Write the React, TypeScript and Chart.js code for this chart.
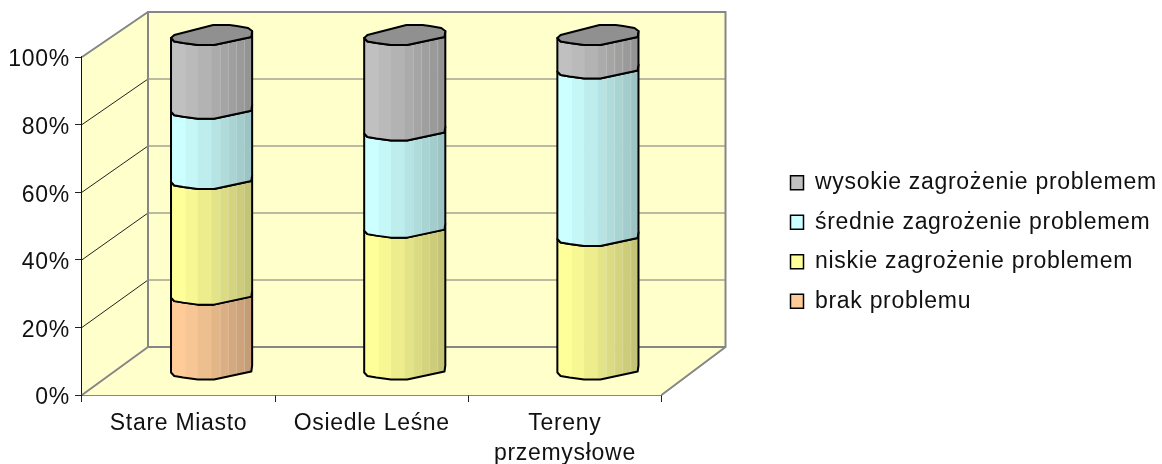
import React, { useEffect, useRef } from "react";
import { Chart, registerables } from "chart.js";

Chart.register(...registerables);

const categories = ["Stare Miasto", "Osiedle Leśne", ["Tereny", "przemysłowe"]];
const brakProblemu = [22.5, 0, 0];
const niskie = [34.5, 42.5, 40];
const srednie = [21, 29, 50];
const wysokie = [22, 28.5, 10];
const seriesNames = [
  "brak problemu",
  "niskie zagrożenie problemem",
  "średnie zagrożenie problemem",
  "wysokie zagrożenie problemem",
];
const seriesColors = ["#FFCC99", "#FFFF99", "#CCFFFF", "#C0C0C0"];

const FONT = "'Liberation Sans', Arial, sans-serif";
const DEPTH_X = 66;
const DEPTH_Y_BACK = 48;
const BACK_RATIO = 335 / 338;

const FRONT: [number, number][] = [
  [0, 3], [0.04, 6.5], [0.15, 8], [0.33, 10], [0.53, 10], [0.99, 2], [1, -4],
];
const BACK: [number, number][] = [
  [1, -4], [0.95, -7], [0.81, -9], [0.72, -10], [0.52, -10], [0.04, 0], [0, 3],
];
const BAND_EDGES = [0, 0.18, 0.33, 0.5, 0.6, 0.7, 0.8, 0.9, 1];
const BAND_SHADES = [1, 0.97, 0.93, 0.89, 0.86, 0.83, 0.8, 0.77];

function shade(hex: string, f: number) {
  const n = parseInt(hex.slice(1), 16);
  const r = Math.round(((n >> 16) & 255) * f);
  const g = Math.round(((n >> 8) & 255) * f);
  const b = Math.round((n & 255) * f);
  return `rgb(${r},${g},${b})`;
}

const spacing = {
  id: "spacing",
  beforeUpdate(chart: any) {
    chart.ctx.letterSpacing = "0.7px";
  },
  beforeDraw(chart: any) {
    chart.ctx.letterSpacing = "0.7px";
  },
};

const legendPlace = {
  id: "legendPlace",
  afterLayout(chart: any) {
    const l = chart.legend;
    const h = l.bottom - l.top;
    l.left = 774;
    l.right = 1162;
    l.top = 242 - h / 2;
    l.bottom = 242 + h / 2;
  },
};

const walls = {
  id: "walls",
  beforeDatasetsDraw(chart: any) {
    const { ctx, scales } = chart;
    const y = scales.y;
    const x = scales.x;
    const L = x.left, R = x.right;
    const y0 = y.getPixelForValue(0), y100 = y.getPixelForValue(100);
    const backY = (py: number) => y0 - DEPTH_Y_BACK - (y0 - py) * BACK_RATIO;
    const bL = L + DEPTH_X, bR = R + DEPTH_X - 2;

    ctx.save();
    ctx.fillStyle = "#FFFFCC";
    ctx.beginPath();
    ctx.moveTo(L, y100);
    ctx.lineTo(bL, backY(y100));
    ctx.lineTo(bR, backY(y100));
    ctx.lineTo(bR, backY(y0));
    ctx.lineTo(R, y0);
    ctx.lineTo(L, y0);
    ctx.closePath();
    ctx.fill();

    // gridlines on the side and back walls
    for (const t of y.ticks) {
      const py = y.getPixelForValue(t.value);
      if (t.value > 0 && t.value < 100) {
        ctx.strokeStyle = "#222";
        ctx.lineWidth = 1;
        ctx.beginPath();
        ctx.moveTo(L, py);
        ctx.lineTo(bL, backY(py));
        ctx.stroke();
        ctx.strokeStyle = "#777";
        ctx.beginPath();
        ctx.moveTo(bL, backY(py));
        ctx.lineTo(bR, backY(py));
        ctx.stroke();
      }
    }

    // wall edges
    ctx.strokeStyle = "#868686";
    ctx.lineWidth = 2;
    ctx.beginPath();
    ctx.moveTo(L, y100);
    ctx.lineTo(bL, backY(y100));
    ctx.lineTo(bR, backY(y100));
    ctx.lineTo(bR, backY(y0));
    ctx.lineTo(R, y0);
    ctx.moveTo(bL, backY(y100));
    ctx.lineTo(bL, backY(y0));
    ctx.lineTo(bR, backY(y0));
    ctx.moveTo(bL, backY(y0));
    ctx.lineTo(L, y0);
    ctx.stroke();
    ctx.restore();

    // cylinders
    const toC = (py: number) => 370 - (y0 - py) * BACK_RATIO;
    const contour = (pts: [number, number][], x0: number, w: number, yc: number, rev = false) => {
      const list = rev ? [...pts].reverse() : pts;
      return list.map(([fx, dy]) => [x0 + fx * w, yc + dy] as [number, number]);
    };
    const n = chart.data.labels.length;
    for (let c = 0; c < n; c++) {
      let lastTop: number | null = null;
      let lastMeta: any = null;
      chart.data.datasets.forEach((ds: any, di: number) => {
        const el = chart.getDatasetMeta(di).data[c];
        if (!el || !ds.data[c]) return;
        const w = el.width;
        const x0 = el.x + DEPTH_X / 2 - w / 2;
        const yb = toC(el.base);
        const yt = toC(el.y);
        const pts = [...contour(FRONT, x0, w, yb), ...contour(FRONT, x0, w, yt, true)];
        const trace = () => {
          ctx.beginPath();
          pts.forEach(([a, b], i) => (i ? ctx.lineTo(a, b) : ctx.moveTo(a, b)));
          ctx.closePath();
        };
        ctx.save();
        trace();
        ctx.clip();
        BAND_SHADES.forEach((f, i) => {
          const a = x0 + BAND_EDGES[i] * w;
          const b = x0 + BAND_EDGES[i + 1] * w;
          ctx.fillStyle = shade(ds.backgroundColor, f);
          ctx.fillRect(a, yt - 15, b - a + 0.5, yb - yt + 30);
          if (i >= 4) {
            ctx.fillStyle = "rgba(255,255,255,0.22)";
            ctx.fillRect(a, yt - 15, 1, yb - yt + 30);
          }
        });
        ctx.restore();
        ctx.save();
        ctx.strokeStyle = "#000";
        ctx.lineWidth = 2;
        ctx.lineJoin = "round";
        trace();
        ctx.stroke();
        ctx.restore();
        lastTop = yt;
        lastMeta = { x0, w, color: ds.backgroundColor };
      });
      if (lastTop !== null && lastMeta) {
        const pts = [
          ...contour(FRONT, lastMeta.x0, lastMeta.w, lastTop),
          ...contour(BACK, lastMeta.x0, lastMeta.w, lastTop),
        ];
        ctx.save();
        ctx.beginPath();
        pts.forEach(([a, b], i) => (i ? ctx.lineTo(a, b) : ctx.moveTo(a, b)));
        ctx.closePath();
        ctx.fillStyle = shade(lastMeta.color, 0.75);
        ctx.fill();
        ctx.strokeStyle = "#000";
        ctx.lineWidth = 2;
        ctx.lineJoin = "round";
        ctx.stroke();
        ctx.restore();
      }
    }
    return false;
  },
};

export default function App() {
  const ref = useRef<HTMLCanvasElement>(null);
  useEffect(() => {
    const series = [brakProblemu, niskie, srednie, wysokie];
    const chart = new Chart(ref.current as HTMLCanvasElement, {
      type: "bar",
      data: {
        labels: categories as any,
        datasets: series.map((data, i) => ({
          label: seriesNames[i],
          data,
          backgroundColor: seriesColors[i],
          borderColor: "#000",
          borderWidth: 1.5,
          categoryPercentage: 1,
          barPercentage: 0.42,
        })),
      },
      options: {
        responsive: false,
        animation: false,
        devicePixelRatio: 1,
        layout: { padding: { top: 57, left: 0, right: 280, bottom: 0 } },
        font: { family: FONT },
        scales: {
          x: {
            stacked: true,
            afterFit: (s: any) => { s.height = 69; },
            grid: {
              offset: true,
              drawOnChartArea: false,
              drawTicks: true,
              tickLength: 7,
              color: "#222",
            },
            border: { color: "#111", width: 1.5 },
            ticks: {
              color: "#111",
              padding: 7,
              maxRotation: 0,
              autoSkip: false,
              font: { family: FONT, size: 23, lineHeight: 1.3 },
            },
          },
          y: {
            stacked: true,
            min: 0,
            max: 100,
            afterFit: (s: any) => { s.width = 82; },
            grid: {
              drawOnChartArea: false,
              drawTicks: true,
              tickLength: 7,
              color: "#222",
            },
            border: { color: "#111", width: 1.5 },
            ticks: {
              stepSize: 20,
              color: "#111",
              padding: 5,
              labelOffset: 3,
              callback: (v: any) => v + "%",
              font: { family: FONT, size: 23 },
            },
          },
        },
        plugins: {
          title: { display: false },
          tooltip: { enabled: false },
          legend: {
            position: "right",
            reverse: true,
            labels: {
              boxWidth: 13,
              boxHeight: 14,
              padding: 16.5,
              color: "#111",
              font: { family: FONT, size: 23 },
            },
          },
        },
      } as any,
      plugins: [spacing, legendPlace, walls] as any,
    });
    return () => chart.destroy();
  }, []);
  return (
    <div style={{ position: "absolute", left: 0, top: 0, width: 1162, height: 464, background: "#fff" }}>
      <canvas ref={ref} width={1162} height={464} style={{ display: "block" }} />
    </div>
  );
}
